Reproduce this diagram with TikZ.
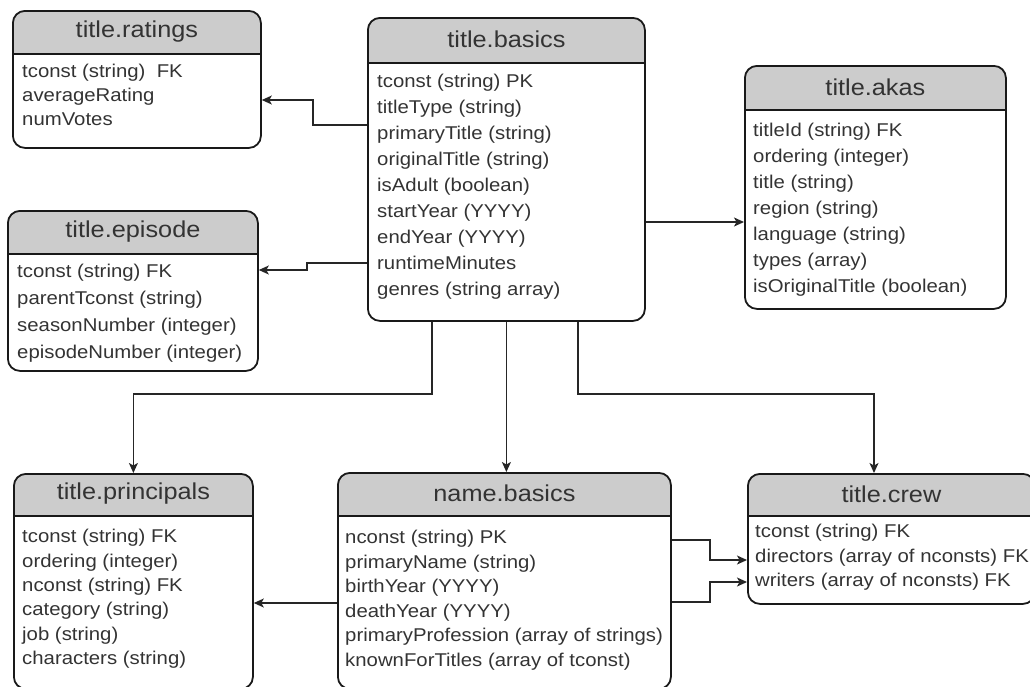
\documentclass[tikz,border=0pt]{standalone}
\usepackage{fontspec}
\setmainfont[FakeStretch=1.1]{Liberation Sans}
\usetikzlibrary{arrows.meta}

\begin{document}
\begin{tikzpicture}[x=1pt, y=-1pt,
  tbl/.style={draw=black!90, line width=1.8pt, rounded corners=12pt, anchor=north west, inner sep=0pt,
    path picture={
      \fill[gray!40, sharp corners] (path picture bounding box.north west) rectangle ([yshift=-#1]path picture bounding box.north east);
      \draw[sharp corners] ([yshift=-#1]path picture bounding box.north west) -- ([yshift=-#1]path picture bounding box.north east);}},
  ttl/.style={text=black!80, font=\fontsize{23}{28}\selectfont, inner sep=0pt},
  rows/.style={text=black!80, font=\fontsize{18.5}{#1}\selectfont, align=left, anchor=north west, inner sep=0pt},
  link/.style={draw=black!85, line width=1.4pt, -{Stealth[length=10pt,width=9pt,inset=2.5pt]}}]
  \useasboundingbox (0,0) rectangle (1030,686);

  \node[tbl=43, minimum width=248, minimum height=137] (ratings) at (12,10) {};
  \node[ttl] (ratings-t) at ([yshift=-21.5]ratings.north) {title.ratings};
  \node[rows=24] (ratings-r) at ([xshift=10,yshift=-54]ratings.north west)
    {tconst (string)\ \ FK\\averageRating\\numVotes};

  \node[tbl=45, minimum width=277, minimum height=303] (basics) at (367,17) {};
  \node[ttl] (basics-t) at ([yshift=-22.5]basics.north) {title.basics};
  \node[rows=26] (basics-r) at ([xshift=10,yshift=-57]basics.north west)
    {tconst (string) PK\\titleType (string)\\primaryTitle (string)\\originalTitle (string)\\isAdult (boolean)\\startYear (YYYY)\\endYear (YYYY)\\runtimeMinutes\\genres (string array)};

  \node[tbl=44, minimum width=261, minimum height=243] (akas) at (744,65) {};
  \node[ttl] (akas-t) at ([yshift=-22]akas.north) {title.akas};
  \node[rows=26] (akas-r) at ([xshift=9,yshift=-58]akas.north west)
    {titleId (string) FK\\ordering (integer)\\title (string)\\region (string)\\language (string)\\types (array)\\isOriginalTitle (boolean)};

  \node[tbl=43, minimum width=250, minimum height=160] (episode) at (7,210) {};
  \node[ttl] (episode-t) at ([yshift=-21.5]episode.north) {title.episode};
  \node[rows=27] (episode-r) at ([xshift=10,yshift=-54]episode.north west)
    {tconst (string) FK\\parentTconst (string)\\seasonNumber (integer)\\episodeNumber (integer)};

  \node[tbl=42, minimum width=239, minimum height=215] (principals) at (13,473) {};
  \node[ttl] (principals-t) at ([yshift=-21]principals.north) {title.principals};
  \node[rows=24.4] (principals-r) at ([xshift=9,yshift=-56]principals.north west)
    {tconst (string) FK\\ordering (integer)\\nconst (string) FK\\category (string)\\job (string)\\characters (string)};

  \node[tbl=43, minimum width=333, minimum height=216] (name) at (337,472) {};
  \node[ttl] (name-t) at ([yshift=-21.5]name.north) {name.basics};
  \node[rows=24.5] (name-r) at ([xshift=8,yshift=-58]name.north west)
    {nconst (string) PK\\primaryName (string)\\birthYear (YYYY)\\deathYear (YYYY)\\primaryProfession (array of strings)\\knownForTitles (array of tconst)};

  \node[tbl=42, minimum width=287, minimum height=130] (crew) at (747,473) {};
  \node[ttl] (crew-t) at ([yshift=-21]crew.north) {title.crew};
  \node[rows=24.5] (crew-r) at ([xshift=8,yshift=-51]crew.north west)
    {tconst (string) FK\\directors (array of nconsts) FK\\writers (array of nconsts) FK};

  \draw[link] ([yshift=-108]basics.north west) -- ++(-54,0) |- ([yshift=-90]ratings.north east);
  \draw[link] ([yshift=-246]basics.north west) -- ++(-60,0) |- ([yshift=-60]episode.north east);
  \draw[link] ([yshift=-205]basics.north east) -- ([yshift=-157]akas.north west);
  \draw[link] ([xshift=65]basics.south west) -- ++(0,72) -| (principals.north);
  \draw[link] (basics.south) -- (basics.south |- name.north);
  \draw[link] ([xshift=-68]basics.south east) -- ++(0,72) -| ([xshift=127]crew.north west);
  \draw[link] ([yshift=-131]name.north west) -- ([yshift=-130]principals.north east);
  \draw[link] ([yshift=-68]name.north east) -- ++(38,0) |- ([yshift=-87]crew.north west);
  \draw[link] ([yshift=-130]name.north east) -- ++(38,0) |- ([yshift=-109]crew.north west);
\end{tikzpicture}
\end{document}
